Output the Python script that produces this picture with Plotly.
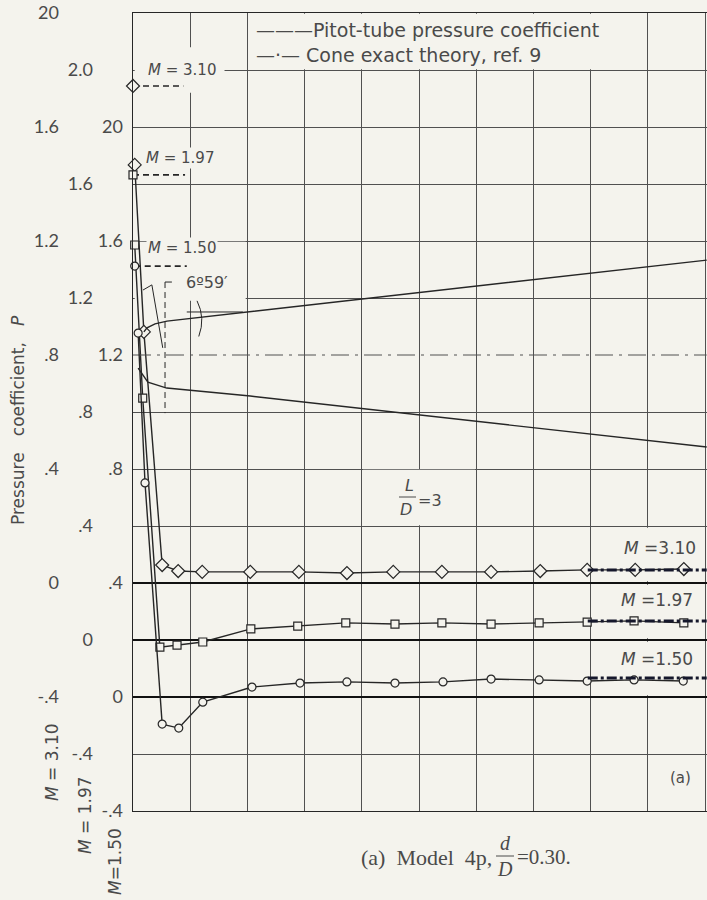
import plotly.graph_objects as go

W, H = 707, 900
BG = "#f4f3ed"
INK = "#262626"
GRID = "#505050"
TXT = "#4a4a4a"
FONT = "DejaVu Sans"
TICKFONT = "Lato"
SERIF = "Liberation Serif"

# ---------------- data (x = station along model, grid units; P = pressure coefficient)
x_m310 = [0.03, 0.19, 0.51, 0.79, 1.21, 2.05, 2.90, 3.74, 4.55, 5.40, 6.26, 7.12, 7.94, 8.78, 9.63]
p_m310 = [1.467, 0.881, 0.063, 0.042, 0.039, 0.039, 0.039, 0.035, 0.039, 0.039, 0.039, 0.042, 0.046, 0.046, 0.049]

x_m197 = [0.03, 0.17, 0.47, 0.77, 1.22, 2.06, 2.88, 3.72, 4.58, 5.40, 6.26, 7.10, 7.94, 8.76, 9.63]
p_m197 = [1.386, 0.849, -0.025, -0.018, -0.007, 0.039, 0.049, 0.060, 0.056, 0.060, 0.056, 0.060, 0.063, 0.067, 0.060]

x_m150 = [0.09, 0.21, 0.51, 0.80, 1.22, 2.08, 2.92, 3.74, 4.58, 5.42, 6.26, 7.10, 7.94, 8.76, 9.62]
p_m150 = [1.277, 0.751, -0.095, -0.109, -0.018, 0.035, 0.049, 0.053, 0.049, 0.053, 0.063, 0.060, 0.056, 0.060, 0.056]

# pitot-tube pressure coefficients (marker + dashed tick)
pitot_m310 = 1.744
pitot_m197 = 1.632
pitot_m150 = 1.512
pitot_x_m310 = [0.0, 0.88]
pitot_x_m197 = [0.0, 0.91]
pitot_x_m150 = [0.03, 0.94]

# cone exact theory, ref. 9
cone_x = [7.95, 10.03]
cone_m310 = 0.046
cone_m197 = 0.067
cone_m150 = 0.067

# model profile (drawn on the M = 1.50 scale)
prof_upper_x = [0.19, 0.245, 0.385, 0.594, 10.03]
prof_upper_y = [1.281, 1.295, 1.309, 1.319, 1.533]
prof_lower_x = [0.09, 0.26, 0.59, 2.05, 10.03]
prof_lower_y = [1.154, 1.105, 1.084, 1.056, 0.877]
axis_y = 1.2

# tick labels of the three offset scales
tick_vals = [2.0, 1.6, 1.2, 0.8, 0.4, 0.0, -0.4]
ticks_m310 = ["20", "1.6", "1.2", ".8", ".4", "0", "-.4"]
ticks_m197 = ["2.0", "1.6", "1.2", ".8", ".4", "0", "-.4"]
ticks_m150 = ["20", "1.6", "1.2", ".8", ".4", "0", "-.4"]
grid_vals = [round(-0.8 + 0.2 * i, 2) for i in range(15) if round(-0.8 + 0.2 * i, 2) != 0.8]

# ---------------- figure
fig = go.Figure()

def line_trace(x, y, yax, **kw):
    return go.Scatter(x=x, y=y, yaxis=yax, mode="lines", hoverinfo="skip",
                      showlegend=False, cliponaxis=False, **kw)

# model profile and centreline (M = 1.50 scale -> y4)
fig.add_trace(line_trace(prof_upper_x, prof_upper_y, "y4", line=dict(color=INK, width=1.4)))
fig.add_trace(line_trace(prof_lower_x, prof_lower_y, "y4", line=dict(color=INK, width=1.4)))
fig.add_trace(line_trace([0, 10.03], [axis_y, axis_y], "y4",
                         line=dict(color=GRID, width=1, dash="18px,6px,3px,6px")))

series = [
    (x_m310, p_m310, "y2", "diamond", 10),
    (x_m197, p_m197, "y3", "square", 8),
    (x_m150, p_m150, "y4", "circle", 8),
]
for xs, ps, yax, sym, sz in series:
    fig.add_trace(go.Scatter(x=xs, y=ps, yaxis=yax, mode="lines+markers",
                             line=dict(color=INK, width=1.4),
                             marker=dict(symbol=sym, size=sz, color=BG,
                                         line=dict(color=INK, width=1.2)),
                             showlegend=False, cliponaxis=False, hoverinfo="skip"))

pitots = [
    (pitot_x_m310, pitot_m310, "y2", "diamond", 10),
    (pitot_x_m197, pitot_m197, "y3", "square", 8),
    (pitot_x_m150, pitot_m150, "y4", "circle", 8),
]
for xs, v, yax, sym, sz in pitots:
    fig.add_trace(line_trace(xs, [v, v], yax, line=dict(color=INK, width=1.6, dash="6px,4px")))
    fig.add_trace(go.Scatter(x=[xs[0]], y=[v], yaxis=yax, mode="markers",
                             marker=dict(symbol=sym, size=sz, color=BG,
                                         line=dict(color=INK, width=1.2)),
                             showlegend=False, cliponaxis=False, hoverinfo="skip"))

for v, yax in [(cone_m310, "y2"), (cone_m197, "y3"), (cone_m150, "y4")]:
    fig.add_trace(line_trace(cone_x, [v, v], yax,
                             line=dict(color="#15172b", width=3, dash="10px,3px,3px,3px")))

# ---------------- shapes (grid clearings, dimension lines)
shapes = []
def clear(x0, x1, y0, y1, yref="y"):
    shapes.append(dict(type="rect", xref="x", yref=yref, x0=x0, x1=x1, y0=y0, y1=y1,
                       fillcolor=BG, line=dict(width=0), layer="between"))

clear(2.02, 8.98, 1.803, 1.997)          # legend box
clear(4.02, 5.98, 0.203, 0.397)          # L/D label cell
clear(0.03, 1.97, 0.99, 1.197)           # nose drawing area
clear(0.03, 1.6, 1.72, 1.88)             # top-left M = 3.10 label
for a, b in [(0.006, 0.194), (-0.194, -0.006), (-0.394, -0.206)]:
    clear(8.8, 9.2, a, b)                # right-hand Mach labels

def seg(x0, y0, x1, y1, yref="y4", dash=None, width=1):
    shapes.append(dict(type="line", xref="x", yref=yref, x0=x0, y0=y0, x1=x1, y1=y1,
                       line=dict(color=INK, width=width, dash=dash), layer="above"))

seg(0.56, 1.456, 0.56, 0.996, dash="6px,4px")      # vertical dashed dimension line
seg(0.56, 1.456, 0.68, 1.456)                       # leader to angle label
seg(0.175, 1.428, 0.33, 1.446)
seg(0.33, 1.446, 0.52, 1.225)
seg(0.94, 1.351, 1.92, 1.351)                       # horizontal angle reference
shapes.append(dict(type="path", xref="x", yref="y4",
                   path="M 1.12,1.39 Q 1.27,1.33 1.15,1.265",
                   line=dict(color=INK, width=1), layer="above"))

def pseg(x0, y0, x1, y1):
    shapes.append(dict(type="line", xref="paper", yref="paper",
                       x0=x0 / W, x1=x1 / W, y0=1 - y0 / H, y1=1 - y1 / H,
                       line=dict(color=TXT, width=1)))

pseg(399, 497, 416, 497)   # L/D fraction bar
pseg(496, 856, 514, 856)   # d/D fraction bar

# ---------------- annotations
anns = []
def ann(text, x, y, size=17, family=FONT, bg=None, xanchor="center", angle=0):
    d = dict(text=text, x=x / W, y=1 - y / H, xref="paper", yref="paper",
             showarrow=False, xanchor=xanchor, yanchor="middle", textangle=angle,
             font=dict(family=family, size=size, color=TXT))
    if bg:
        d["bgcolor"] = bg
    anns.append(d)

ann("<i>M</i> = 3.10", 182, 70, size=15, bg=BG)
ann("<i>M</i> = 1.97", 180, 158, size=15, bg=BG)
ann("<i>M</i> = 1.50", 182, 248, size=15, bg=BG)
ann("6º59′", 207, 282, size=16, bg=BG)
ann("<i>L</i>", 409, 485, size=16)
ann("<i>D</i>", 406, 509, size=16)
ann("=3", 430, 500, size=16)
ann("<i>M</i> =3.10", 660, 548)
ann("<i>M</i> =1.97", 657, 600)
ann("<i>M</i> =1.50", 657, 659)
ann("———Pitot-tube pressure coefficient", 254, 30, size=19, xanchor="left")
ann("—·— Cone exact theory, ref. 9", 254, 55, size=19, xanchor="left")
ann("(a)", 680, 778, size=15)
ann("Pressure   coefficient,   <i>P</i>", 18, 420, size=17, angle=-90)
ann("<i>M</i> = 3.10", 52, 762, angle=-90)
ann("<i>M</i> = 1.97", 85, 815, angle=-90)
ann("<i>M</i>=1.50", 115, 862, angle=-90)
ann("(a)  Model  4p,", 494, 857, size=22, family=SERIF, xanchor="right")
ann("<i>d</i>", 505, 843, size=20, family=SERIF)
ann("<i>D</i>", 505, 869, size=20, family=SERIF)
ann("=0.30.", 515, 857, size=21, family=SERIF, xanchor="left")

# ---------------- layout
ydom = [1 - 811 / H, 1 - 13 / H]
tickfont = dict(family=TICKFONT, size=18, color=TXT)
label_y = dict(anchor="free", overlaying="y", tickmode="array", tickvals=tick_vals,
               showgrid=False, ticks="", showline=False, tickfont=tickfont,
               automargin=False,
               zeroline=True, zerolinecolor="#111111", zerolinewidth=2.2)

fig.update_layout(
    width=W, height=H,
    margin=dict(l=0, r=0, t=0, b=0, autoexpand=False),
    paper_bgcolor=BG, plot_bgcolor=BG,
    showlegend=False,
    xaxis=dict(domain=[133 / W, 1], range=[0, 10.035], tickmode="linear", tick0=0, dtick=1,
               showgrid=True, gridcolor=GRID, gridwidth=1, showticklabels=False,
               ticks="", zeroline=False, showline=True, linecolor=INK, linewidth=1.2,
               mirror=True, anchor="y", automargin=False),
    # grid-only axis on the M = 3.10 scale
    yaxis=dict(range=[-0.8, 2.0], domain=ydom, anchor="x",
               tickmode="array", tickvals=grid_vals, showticklabels=False, ticks="",
               showgrid=True, gridcolor=GRID, gridwidth=1, zeroline=False,
               showline=True, linecolor=INK, linewidth=1.4, mirror=True, automargin=False),
    yaxis2=dict(range=[-0.8, 2.0], position=59 / W, ticktext=ticks_m310, **label_y),
    yaxis3=dict(range=[-0.6, 2.2], position=93 / W, ticktext=ticks_m197, **label_y),
    yaxis4=dict(range=[-0.4, 2.4], position=123 / W, ticktext=ticks_m150, **label_y),
    shapes=shapes,
    annotations=anns,
)

fig.write_html("out.html",
               config={"displayModeBar": False},
               post_script="document.body.style.margin='0';"
                           "document.body.style.background='%s';" % BG)
